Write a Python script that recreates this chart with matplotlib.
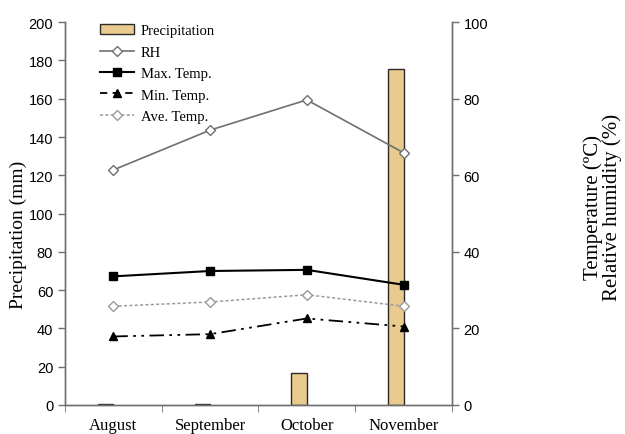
import matplotlib
matplotlib.use("Agg")
import matplotlib.pyplot as plt
import numpy as np
from matplotlib.patches import Patch
from matplotlib.lines import Line2D

months = ["August", "September", "October", "November"]
precip = [0.3, 0.5, 16.7, 175.8]
rh = [61.4, 71.8, 79.7, 65.9]
max_temp = [33.6, 35.0, 35.3, 31.4]
min_temp = [17.9, 18.5, 22.6, 20.5]
ave_temp = [25.8, 26.9, 28.8, 25.8]
left_ticks = [0, 20, 40, 60, 80, 100, 120, 140, 160, 180, 200]
right_ticks = [0, 20, 40, 60, 80, 100]

serif = "Liberation Serif"
sans = "Liberation Sans"

fig = plt.figure(figsize=(6.25, 4.35), dpi=100)
ax = fig.add_axes([0.104, 0.0667, 0.619, 0.88])
ax2 = ax.twinx()

x = np.arange(len(months))
bw = 0.16
ax.bar(x - bw / 2, precip, width=bw, color="#E9CB8F", edgecolor="#2a2a2a", linewidth=1.0, zorder=2)

gray = "#6f6f6f"
ax2.plot(x, rh, color=gray, lw=1.2, marker="D", ms=5, mfc="white", mec=gray, mew=1.0)
ax2.plot(x, max_temp, color="black", lw=1.5, marker="s", ms=6, mfc="black", mec="black")
ax2.plot(x, min_temp, color="black", lw=1.3, dashes=[8, 3, 1.5, 3, 1.5, 3], marker="^", ms=6, mfc="black", mec="black")
ax2.plot(x, ave_temp, color="#9a9a9a", lw=1.1, dashes=[2, 1.5], marker="D", ms=5, mfc="white", mec="#9a9a9a", mew=1.0)

ax.set_xlim(-0.5, len(months) - 0.5)
ax.set_ylim(0, 200)
ax2.set_ylim(0, 100)
ax.set_yticks(left_ticks)
ax2.set_yticks(right_ticks)

ax.set_xticks(x)
ax.set_xticklabels(months, fontfamily=serif, fontsize=12)
ax.tick_params(axis="x", which="major", length=0, pad=9)
ax.set_xticks(np.arange(-0.5, len(months), 1.0), minor=True)
ax.tick_params(axis="x", which="minor", length=5, color=gray, direction="out")

for a in (ax, ax2):
    a.tick_params(axis="y", labelsize=10.5, color=gray, length=5, width=1)
    for lab in a.get_yticklabels():
        lab.set_fontfamily(sans)
    a.spines["top"].set_visible(False)
    for s in ("left", "right", "bottom"):
        a.spines[s].set_color(gray)
        a.spines[s].set_linewidth(1.0)

fig.text(0.029, 0.46, "Precipitation (mm)", rotation=90, ha="center", va="center",
         fontfamily=serif, fontsize=14)
fig.text(0.965, 0.522, "Temperature (ºC)\nRelative humidity (%)", rotation=90, ha="center",
         va="center", fontfamily=serif, fontsize=15, linespacing=0.95)

handles = [
    Patch(facecolor="#E9CB8F", edgecolor="#2a2a2a", linewidth=1.0),
    Line2D([], [], color=gray, lw=1.2, marker="D", ms=5, mfc="white", mec=gray),
    Line2D([], [], color="black", lw=1.5, marker="s", ms=6, mfc="black"),
    Line2D([], [], color="black", lw=1.3, dashes=[4, 3], marker="^", ms=6, mfc="black"),
    Line2D([], [], color="#9a9a9a", lw=1.1, dashes=[2, 1.5], marker="D", ms=5, mfc="white", mec="#9a9a9a"),
]
labels = ["Precipitation", "RH", "Max. Temp.", "Min. Temp.", "Ave. Temp."]
leg = fig.legend(handles, labels, loc="upper left", bbox_to_anchor=(0.16, 0.942), frameon=False,
                 prop={"family": serif, "size": 10.5}, handlelength=2.3, handletextpad=0.5,
                 labelspacing=0.56, handleheight=0.7, borderaxespad=0, borderpad=0)

fig.savefig("out.png", dpi=100)
